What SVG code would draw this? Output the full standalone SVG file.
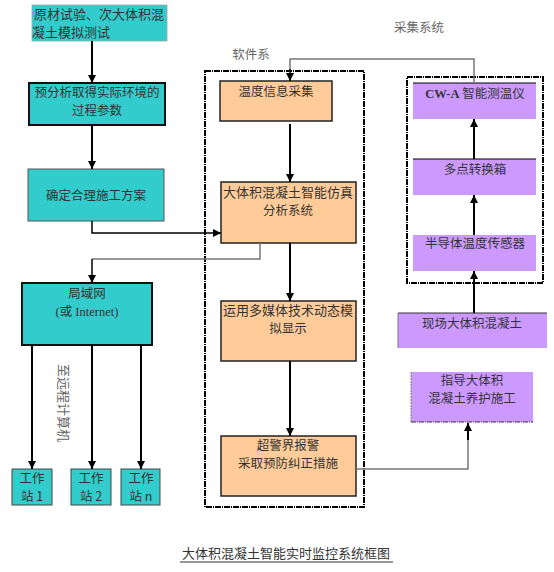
<svg xmlns="http://www.w3.org/2000/svg" width="554" height="572" viewBox="0 0 554 572">
<defs>
<marker id="ah" viewBox="0 0 10 10" refX="10" refY="5" markerWidth="8" markerHeight="8" markerUnits="userSpaceOnUse" orient="auto">
<path d="M0,0 L10,5 L0,10 z" fill="#000"/>
</marker>
</defs>
<style>
text{font-family:"Noto Sans CJK SC","Liberation Serif",serif;font-size:12.5px;fill:#333;text-anchor:middle}
.teal{fill:#33CCCC}
.orange{fill:#FFCC99;stroke:#222;stroke-width:1.5}
.purple{fill:#CC99FF}
.blk{stroke:#000;stroke-width:2;fill:none}
.gry{stroke:#777;stroke-width:1.5;fill:none}
.dash{fill:none;stroke:#000;stroke-width:2;stroke-dasharray:6 1 1 1}
.lbl{fill:#666}
</style>
<rect width="554" height="572" fill="#fff"/>

<g id="soft-frame">
<rect class="dash" x="205" y="71" width="159" height="436"/>
<text class="lbl" x="251" y="59">软件系</text>
</g>
<g id="collect-frame">
<rect class="dash" x="407" y="77" width="136" height="206"/>
<text class="lbl" x="419" y="32">采集系统</text>
</g>

<g id="n-raw">
<rect class="teal" x="32" y="5" width="135" height="36" stroke="#9aa" stroke-width="0.8"/>
<text x="99" y="19" style="font-size:13px">原材试验、次大体积混</text>
<text x="71" y="37" style="font-size:13px">凝土模拟测试</text>
</g>
<g id="n-pre">
<rect class="teal" x="29" y="83" width="136" height="42" stroke="#111" stroke-width="2"/>
<text x="97" y="97">预分析取得实际环境的</text>
<text x="97" y="115">过程参数</text>
</g>
<g id="n-plan">
<rect class="teal" x="28" y="169" width="136" height="52" stroke="#555" stroke-width="1"/>
<text x="96" y="200">确定合理施工方案</text>
</g>
<g id="n-lan">
<rect class="teal" x="22" y="283" width="130" height="62" stroke="#111" stroke-width="2"/>
<text x="87" y="298">局域网</text>
<text x="87" y="316" style="font-family:'Liberation Serif','Noto Sans CJK SC',serif">(或 Internet)</text>
</g>
<g id="n-ws1">
<rect class="teal" x="12" y="469" width="40" height="36" stroke="#444" stroke-width="1"/>
<text x="32" y="483">工作</text>
<text x="32" y="501">站 1</text>
</g>
<g id="n-ws2">
<rect class="teal" x="71" y="469" width="40" height="36" stroke="#444" stroke-width="1"/>
<text x="91" y="483">工作</text>
<text x="91" y="501">站 2</text>
</g>
<g id="n-wsn">
<rect class="teal" x="121" y="469" width="39" height="36" stroke="#444" stroke-width="1"/>
<text x="141" y="483">工作</text>
<text x="141" y="501">站 n</text>
</g>
<g id="remote-label">
<text class="lbl" transform="translate(59,403) rotate(90)" style="font-size:13px">至远程计算机</text>
</g>

<g id="n-collect">
<rect class="orange" x="220" y="81" width="112" height="40"/>
<text x="276" y="96">温度信息采集</text>
</g>
<g id="n-analysis">
<rect class="orange" x="221" y="182" width="135" height="61"/>
<text x="288" y="197" style="font-size:13px">大体积混凝土智能仿真</text>
<text x="288" y="215">分析系统</text>
</g>
<g id="n-media">
<rect class="orange" x="221" y="301" width="135" height="60"/>
<text x="288" y="315" style="font-size:13px">运用多媒体技术动态模</text>
<text x="288" y="333">拟显示</text>
</g>
<g id="n-alarm">
<rect class="orange" x="221" y="436" width="135" height="60"/>
<text x="288" y="450">超警界报警</text>
<text x="288" y="468">采取预防纠正措施</text>
</g>

<g id="n-cwa">
<rect class="purple" x="413" y="83" width="123" height="36"/>
<line x1="413" y1="83" x2="536" y2="83" stroke="#000" stroke-width="1"/>
<text x="475" y="97.5"><tspan style="font-family:'Liberation Serif',serif;font-weight:bold">CW-A</tspan> 智能测温仪</text>
</g>
<g id="n-mux">
<rect class="purple" x="413" y="159" width="123" height="36"/>
<line x1="413" y1="159" x2="536" y2="159" stroke="#000" stroke-width="1"/>
<text x="475" y="173.5">多点转换箱</text>
</g>
<g id="n-sensor">
<rect class="purple" x="413" y="235" width="123" height="36"/>
<text x="475" y="247.5">半导体温度传感器</text>
</g>
<g id="n-site">
<rect class="purple" x="398" y="313" width="149" height="35"/>
<line x1="398" y1="313" x2="547" y2="313" stroke="#333" stroke-width="1"/>
<line x1="398" y1="313" x2="398" y2="348" stroke="#777" stroke-width="1"/>
<text x="472" y="327.5">现场大体积混凝土</text>
</g>
<g id="n-guide">
<rect class="purple" x="411" y="372" width="122" height="50"/>
<line x1="411" y1="422" x2="533" y2="422" stroke="#333" stroke-width="1.2" stroke-dasharray="5 1 1 1"/>
<line x1="411" y1="372" x2="411" y2="422" stroke="#666" stroke-width="0.8" stroke-dasharray="2 1"/>
<text x="472" y="385">指导大体积</text>
<text x="472" y="403">混凝土养护施工</text>
</g>

<g id="connectors">
<line class="blk" x1="92" y1="41" x2="92" y2="83" marker-end="url(#ah)"/>
<line class="blk" x1="92" y1="125" x2="92" y2="169" marker-end="url(#ah)"/>
<polyline class="blk" points="92,221 92,233 221,233" marker-end="url(#ah)" style="stroke-width:1.5"/>
<polyline class="gry" points="260,243 260,259 92,259"/>
<line class="blk" x1="92" y1="259" x2="92" y2="283" marker-end="url(#ah)" style="stroke-width:1.5"/>
<line class="blk" x1="32" y1="345" x2="32" y2="469" marker-end="url(#ah)"/>
<line class="blk" x1="92" y1="345" x2="92" y2="469" marker-end="url(#ah)"/>
<line class="blk" x1="141" y1="345" x2="141" y2="469" marker-end="url(#ah)"/>
<polyline class="gry" points="474,83 474,59 290,59 290,70"/>
<line class="blk" x1="290" y1="69" x2="290" y2="81" marker-end="url(#ah)" style="stroke-width:1.5"/>
<line class="blk" x1="290" y1="124" x2="290" y2="182" marker-end="url(#ah)"/>
<line class="blk" x1="290" y1="243" x2="290" y2="301" marker-end="url(#ah)"/>
<line class="blk" x1="290" y1="361" x2="290" y2="436" marker-end="url(#ah)"/>
<line class="blk" x1="474" y1="159" x2="474" y2="119" marker-end="url(#ah)"/>
<line class="blk" x1="474" y1="235" x2="474" y2="195" marker-end="url(#ah)"/>
<line class="blk" x1="474" y1="313" x2="474" y2="271" marker-end="url(#ah)"/>
<polyline class="gry" points="356,469 468,469 468,440"/>
<line class="blk" x1="468" y1="440" x2="468" y2="423" marker-end="url(#ah)"/>
</g>

<g id="caption">
<text x="286" y="558" style="font-size:13px">大体积混凝土智能实时监控系统框图</text>
<line x1="180" y1="562" x2="393" y2="562" stroke="#333" stroke-width="1"/>
</g>
</svg>
